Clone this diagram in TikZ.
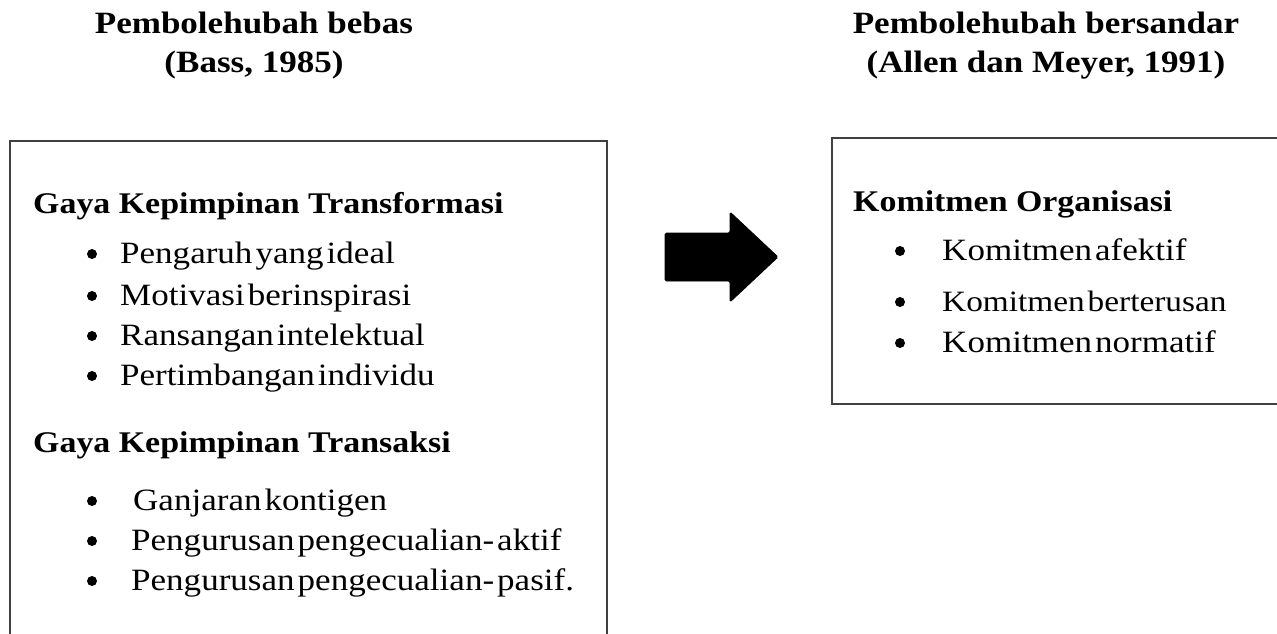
\documentclass[tikz,border=0pt]{standalone}
\usepackage{fontspec}
\setmainfont{Liberation Serif}[FakeStretch=1.13]
\newfontfamily\bodyfont{Liberation Serif}[FakeStretch=1.13,WordSpace=0.35]
\tikzset{
  frame/.style={draw=black!75,line width=1.6pt},
  hdr/.style={font=\fontsize{31}{36}\selectfont\bfseries,anchor=base,inner sep=0pt},
  ttl/.style={font=\fontsize{30}{36}\selectfont\bfseries,anchor=base west,inner sep=0pt},
  itm/.style={font=\fontsize{31}{36}\bodyfont,anchor=base west,inner sep=0pt},
  bul/.style={circle,fill=black,inner sep=0pt,minimum size=10pt},
  blockarrow/.style={fill=black,draw=black,line width=0.8pt,rounded corners=1.5pt}
}
\begin{document}
\begin{tikzpicture}[x=1pt,y=-1pt]
\useasboundingbox (0,0) rectangle (1277,633);
\clip (0,0) rectangle (1277,633);
% headers
\node[hdr] (h1a) at (254,33) {Pembolehubah bebas};
\node[hdr] (h1b) at (254,72) {(Bass, 1985)};
\node[hdr] (h2a) at (1046,33) {Pembolehubah bersandar};
\node[hdr] (h2b) at (1046,72) {(Allen dan Meyer, 1991)};
% boxes
\draw[frame] (10,141) rectangle (607,660);
\draw[frame] (832,138) rectangle (1290,404);
% left box content
\node[ttl] (t1) at (33,213) {Gaya Kepimpinan Transformasi};
\node[bul] (b1) at (92,254) {}; \node[itm] (i1) at (120,263) {Pengaruh yang ideal};
\node[bul] (b2) at (92,296) {}; \node[itm] (i2) at (120,305) {Motivasi berinspirasi};
\node[bul] (b3) at (92,336) {}; \node[itm] (i3) at (120,345) {Ransangan intelektual};
\node[bul] (b4) at (92,376) {}; \node[itm] (i4) at (120,385) {Pertimbangan individu};
\node[ttl] (t2) at (33,452) {Gaya Kepimpinan Transaksi};
\node[bul] (b5) at (92,501) {}; \node[itm] (i5) at (133,510) {Ganjaran kontigen};
\node[bul] (b6) at (92,541) {}; \node[itm] (i6) at (131,550) {Pengurusan pengecualian- aktif};
\node[bul] (b7) at (92,581) {}; \node[itm] (i7) at (131,590) {Pengurusan pengecualian- pasif.};
% right box content
\node[ttl] (t3) at (853,211) {Komitmen Organisasi};
\node[bul] (b8) at (900,251) {}; \node[itm] (i8) at (942,260) {Komitmen afektif};
\node[bul] (b9) at (900,302) {}; \node[itm,font=\fontsize{29.5}{34}\bodyfont] (i9) at (942,311) {Komitmen berterusan};
\node[bul] (b10) at (900,343) {}; \node[itm] (i10) at (942,352) {Komitmen normatif};
% block arrow
\draw[blockarrow] (665,233) -- (730,233) -- (730,212) -- (778,257) -- (730,302) -- (730,281) -- (665,281) -- cycle;
\end{tikzpicture}
\end{document}
